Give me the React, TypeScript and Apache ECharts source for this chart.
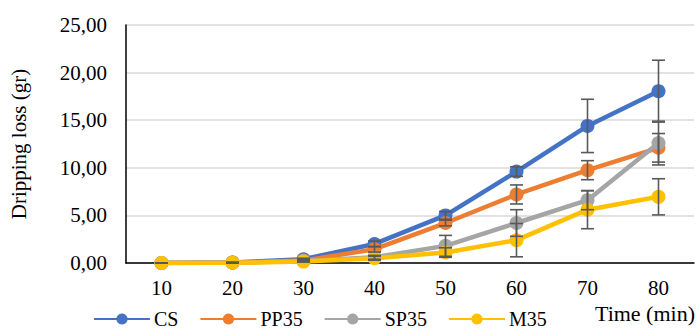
import React, { useEffect, useRef } from "react";
import * as echarts from "echarts";

const categories = ["10", "20", "30", "40", "50", "60", "70", "80"];
const seriesNames = ["CS", "PP35", "SP35", "M35"];
const csValues = [0.0, 0.05, 0.4, 2.0, 5.0, 9.6, 14.4, 18.05];
const pp35Values = [0.0, 0.05, 0.25, 1.45, 4.2, 7.2, 9.75, 12.1];
const sp35Values = [0.0, 0.03, 0.2, 0.6, 1.8, 4.2, 6.6, 12.6];
const m35Values = [0.0, 0.02, 0.15, 0.5, 1.1, 2.4, 5.6, 6.95];
const csErrors = [0, 0, 0.1, 0.3, 0.4, 0.5, 2.8, 3.25];
const pp35Errors = [0, 0, 0.1, 0.3, 0.3, 1.0, 1.0, 1.5];
const sp35Errors = [0, 0, 0.05, 0.2, 1.1, 1.4, 1.0, 2.3];
const m35Errors = [0, 0, 0.05, 0.2, 0.5, 1.75, 2.0, 1.9];
const colors = ["#4472C4", "#ED7D31", "#A5A5A5", "#FFC000"];

const FONT = "Liberation Serif";

export default function App() {
  const ref = useRef<HTMLDivElement>(null);
  useEffect(() => {
    if (!ref.current) return;
    const chart = echarts.init(ref.current, null, { renderer: "svg" });
    const values = [csValues, pp35Values, sp35Values, m35Values];
    const errors = [csErrors, pp35Errors, sp35Errors, m35Errors];
    const lineSeries = values.map((v, i) => ({
      name: seriesNames[i],
      type: "line",
      data: v,
      symbol: "circle",
      symbolSize: 14,
      lineStyle: { width: 4.5, color: colors[i] },
      itemStyle: { color: colors[i] },
      z: 2 + i,
    }));
    const errSeries = values.map((v, i) => ({
      type: "custom",
      name: seriesNames[i] + "-err",
      data: v.map((val, j) => [j, val - errors[i][j], val + errors[i][j]]),
      z: 10,
      silent: true,
      renderItem: (params: any, api: any) => {
        const x = api.value(0);
        const lo = api.coord([x, api.value(1)]);
        const hi = api.coord([x, api.value(2)]);
        const hw = 6.5;
        const style = { stroke: "#595959", lineWidth: 1.6, fill: "none" };
        return {
          type: "group",
          children: [
            { type: "line", shape: { x1: lo[0], y1: lo[1], x2: hi[0], y2: hi[1] }, style },
            { type: "line", shape: { x1: lo[0] - hw, y1: lo[1], x2: lo[0] + hw, y2: lo[1] }, style },
            { type: "line", shape: { x1: hi[0] - hw, y1: hi[1], x2: hi[0] + hw, y2: hi[1] }, style },
          ],
        };
      },
    }));
    chart.setOption({
      animation: false,
      backgroundColor: "#fff",
      textStyle: { fontFamily: FONT },
      grid: { left: 124, right: 5, top: 25, bottom: 67 },
      legend: {
        data: seriesNames,
        left: 88,
        top: 304,
        itemWidth: 56,
        itemHeight: 14,
        itemGap: 21,
        textStyle: { fontFamily: FONT, fontSize: 20, color: "#000", padding: [0, 0, 0, -1] },
      },
      xAxis: {
        type: "category",
        data: categories,
        boundaryGap: true,
        axisLine: { lineStyle: { color: "#000", width: 1.5 } },
        axisTick: { show: false },
        axisLabel: { fontFamily: FONT, fontSize: 21, color: "#000", margin: 14 },
      },
      yAxis: {
        type: "value",
        min: 0,
        max: 25,
        interval: 5,
        name: "Dripping loss (gr)",
        nameLocation: "middle",
        nameGap: 97,
        nameTextStyle: { fontFamily: FONT, fontSize: 21, color: "#000" },
        axisLine: { show: true, lineStyle: { color: "#000", width: 1.5 } },
        axisTick: { show: false },
        axisLabel: {
          fontFamily: FONT,
          fontSize: 21,
          color: "#000",
          margin: 19,
          formatter: (v: number) => v.toFixed(2).replace(".", ","),
        },
        splitLine: { lineStyle: { color: "#D9D9D9", width: 1.5 } },
      },
      graphic: [
        {
          type: "text",
          right: 4,
          top: 302,
          style: { text: "Time (min)", fontFamily: FONT, fontSize: 22, fill: "#000" },
        },
      ],
      series: [...lineSeries, ...errSeries],
    });
    return () => chart.dispose();
  }, []);
  return <div ref={ref} style={{ width: 699, height: 330, position: "absolute", left: 0, top: 0 }} />;
}
